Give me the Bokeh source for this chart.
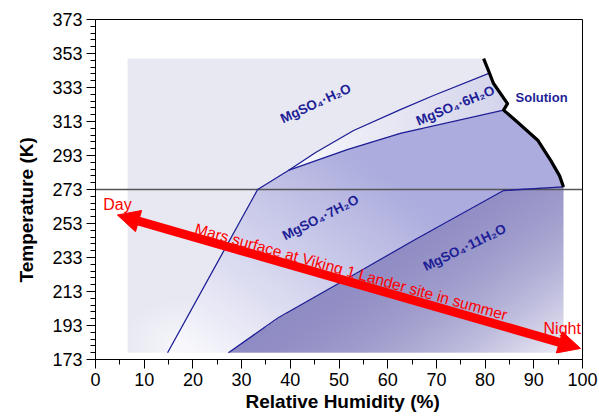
import numpy as np
from bokeh.plotting import figure
from bokeh.models import FixedTicker, Arrow, NormalHead, Title
from bokeh.core.properties import value
from bokeh.embed import file_html
from bokeh.resources import INLINE

# ---------------- data ----------------
x_ticks = list(range(0, 101, 10))
x_minor = list(range(5, 100, 10))
y_ticks = list(range(173, 374, 20))
y_minor = [t for t in range(173, 374, 4) if t not in y_ticks]

# phase boundaries (relative humidity %, temperature K)
left_x = [14.8, 33.3, 39.6]
left_y = [177.0, 273.0, 284.2]
upper_x = [39.6, 45.2, 53.0, 62.6, 69.4, 80.9]
upper_y = [284.2, 294.8, 307.7, 320.0, 328.3, 341.5]
lower_x = [39.6, 51.7, 62.6, 83.8]
lower_y = [284.2, 296.5, 306.0, 319.7]
undec_x = [27.3, 37.6, 49.9, 65.3, 83.8, 96.1]
undec_y = [177.0, 197.7, 217.7, 243.0, 272.4, 274.5]
sol_x = [79.7, 80.9, 81.7, 84.6, 83.8, 86.5, 90.8, 93.5, 95.3, 96.1]
sol_y = [350.0, 341.5, 335.5, 323.5, 319.7, 313.0, 302.0, 290.0, 281.0, 274.5]

shade_x = [6.6, 96.1]
shade_y = [177.0, 350.0]

freeze_x = [0, 100]
freeze_y = [273, 273]

arrow_x = [4.5, 99.6]
arrow_y = [258.0, 179.5]

phase_text = ["MgSO\u2084\u00b7H\u2082O", "MgSO\u2084\u00b76H\u2082O", "Solution",
              "MgSO\u2084\u00b77H\u2082O", "MgSO\u2084\u00b711H\u2082O"]
phase_x = [45.2, 73.9, 91.6, 46.2, 75.8]
phase_y = [323.6, 322.4, 327.1, 256.5, 238.9]
phase_angle = [24.8, 22.6, 0.0, 27.0, 26.0]
phase_size = ["13.5px", "13.5px", "13px", "13.5px", "13.5px"]

red_text = ["Day", "Night", "Mars surface at Viking 1 Lander site in summer"]
red_x = [1.6, 92.0, 20.5]
red_y = [264.2, 191.2, 250.3]
red_angle = [0.0, 0.0, -15.6]
red_size = ["16px", "16px", "15.5px"]

NAVY = "#1e1e96"
FONT = "Liberation Sans"

# ---------------- shaded phase fields (image) ----------------
def inside(px, py, vx, vy):
    res = np.zeros(px.shape, dtype=bool)
    n = len(vx)
    j = n - 1
    for i in range(n):
        xi, yi, xj, yj = vx[i], vy[i], vx[j], vy[j]
        if yi != yj:
            cond = ((yi > py) != (yj > py)) & (px < (xj - xi) * (py - yi) / (yj - yi) + xi)
            res ^= cond
        j = i
    return res

W, H = 440, 300
xs = shade_x[0] + (np.arange(W) + 0.5) * (shade_x[1] - shade_x[0]) / W
ys = shade_y[0] + (np.arange(H) + 0.5) * (shade_y[1] - shade_y[0]) / H
X, Y = np.meshgrid(xs, ys)

def lerp(c0, c1, t):
    return [c0[k] + (c1[k] - c0[k]) * t for k in range(3)]

# MgSO4.H2O field (background)
d = np.sqrt(((X - 17) / 12) ** 2 + ((Y - 180) / 30) ** 2)
light = np.clip(1 - d, 0, 1) * 0.7
R, G, B = lerp((232, 232, 243), (252, 252, 254), light)
R = np.array(R, dtype=float); G = np.array(G, dtype=float); B = np.array(B, dtype=float)
A = np.full(X.shape, 255.0)

# 7H2O
p7x = left_x + lower_x[1:] + sol_x[5:] + undec_x[::-1][1:]
p7y = left_y + lower_y[1:] + sol_y[5:] + undec_y[::-1][1:]
m7 = inside(X, Y, p7x, p7y)
t7 = np.clip(0.75 * (X - 15) / 70 + 0.5 * (Y - 177) / 100, 0, 1)
c7 = lerp((252, 252, 254), (172, 172, 222), t7)

# 11H2O
p11x = undec_x + [96.1]
p11y = undec_y + [177.0]
m11 = inside(X, Y, p11x, p11y)
t11 = np.clip(0.5 * (X - 50) / 46 + 0.5 * (270 - Y) / 93, 0, 1) ** 2.5
c11 = lerp((140, 136, 194), (238, 238, 247), t11)

# 6H2O
p6x = upper_x + sol_x[2:4] + lower_x[::-1]
p6y = upper_y + sol_y[2:4] + lower_y[::-1]
m6 = inside(X, Y, p6x, p6y)
t6 = np.clip((X - 40) / 44, 0, 1)
c6 = lerp((248, 248, 252), (212, 212, 236), t6)

for m, c in [(m7, c7), (m11, c11), (m6, c6)]:
    R = np.where(m, c[0], R)
    G = np.where(m, c[1], G)
    B = np.where(m, c[2], B)

# solution field (unshaded)
psx = sol_x + [97.0, 97.0, 79.0]
psy = sol_y + [274.5, 351.0, 351.0]
ms = inside(X, Y, psx, psy)
A = np.where(ms, 0, A)

img = np.empty((H, W), dtype=np.uint32)
view = img.view(dtype=np.uint8).reshape((H, W, 4))
view[:, :, 0] = np.clip(R, 0, 255).astype(np.uint8)
view[:, :, 1] = np.clip(G, 0, 255).astype(np.uint8)
view[:, :, 2] = np.clip(B, 0, 255).astype(np.uint8)
view[:, :, 3] = A.astype(np.uint8)

# ---------------- figure ----------------
p = figure(width=599, height=418, x_range=(0, 100), y_range=(173, 373),
           output_backend="svg", toolbar_location=None,
           min_border_left=95, min_border_right=17, min_border_top=19, min_border_bottom=59)
p.background_fill_color = "white"
p.border_fill_color = "white"
p.outline_line_color = "black"
p.outline_line_width = 1
p.xgrid.visible = False
p.ygrid.visible = False

p.image_rgba(image=[img], x=shade_x[0], y=shade_y[0],
             dw=shade_x[1] - shade_x[0], dh=shade_y[1] - shade_y[0])

p.line(freeze_x, freeze_y, line_color="#555555", line_width=1.3)
for lx, ly in [(left_x, left_y), (upper_x, upper_y), (lower_x, lower_y), (undec_x, undec_y)]:
    p.line(lx, ly, line_color=NAVY, line_width=1.3)
p.line(sol_x, sol_y, line_color="black", line_width=3.2, line_join="round")

p.add_layout(Arrow(start=NormalHead(size=22, fill_color="red", line_color="red"),
                   end=NormalHead(size=22, fill_color="red", line_color="red"),
                   x_start=arrow_x[0], y_start=arrow_y[0],
                   x_end=arrow_x[1], y_end=arrow_y[1],
                   line_color="red", line_width=9))

for t, x, y, a, s in zip(phase_text, phase_x, phase_y, phase_angle, phase_size):
    p.text(x=[x], y=[y], text=[t], angle=a, angle_units="deg",
           text_font=value(FONT), text_font_style="bold", text_font_size=s,
           text_color=NAVY, text_align="center", text_baseline="middle")

for t, x, y, a, s in zip(red_text, red_x, red_y, red_angle, red_size):
    p.text(x=[x], y=[y], text=[t], angle=a, angle_units="deg",
           text_font=value(FONT), text_font_size=s, text_color="red",
           text_align="left", text_baseline="alphabetic")

p.xaxis.ticker = FixedTicker(ticks=x_ticks, minor_ticks=x_minor)
p.yaxis.ticker = FixedTicker(ticks=y_ticks, minor_ticks=y_minor)
for ax in (p.xaxis[0], p.yaxis[0]):
    ax.major_tick_out = 9
    ax.major_tick_in = 0
    ax.minor_tick_out = 5
    ax.minor_tick_in = 0
    ax.axis_line_color = "black"
    ax.major_tick_line_color = "black"
    ax.minor_tick_line_color = "black"
    ax.major_label_text_font = FONT
    ax.major_label_text_font_size = "18px"
    ax.major_label_text_color = "black"
    ax.major_label_standoff = 4

xtitle = Title(text="Relative Humidity (%)", align="left", offset=150, standoff=4,
               vertical_align="top",
               text_font=FONT, text_font_size="19px", text_font_style="bold",
               text_color="black")
p.add_layout(xtitle, "below")

ytitle = Title(text="Temperature (K)", align="left", offset=77, standoff=22,
               vertical_align="top",
               text_font=FONT, text_font_size="19px", text_font_style="bold",
               text_color="black")
p.add_layout(ytitle, "left")

open("out.html", "w").write(file_html(p, INLINE))
